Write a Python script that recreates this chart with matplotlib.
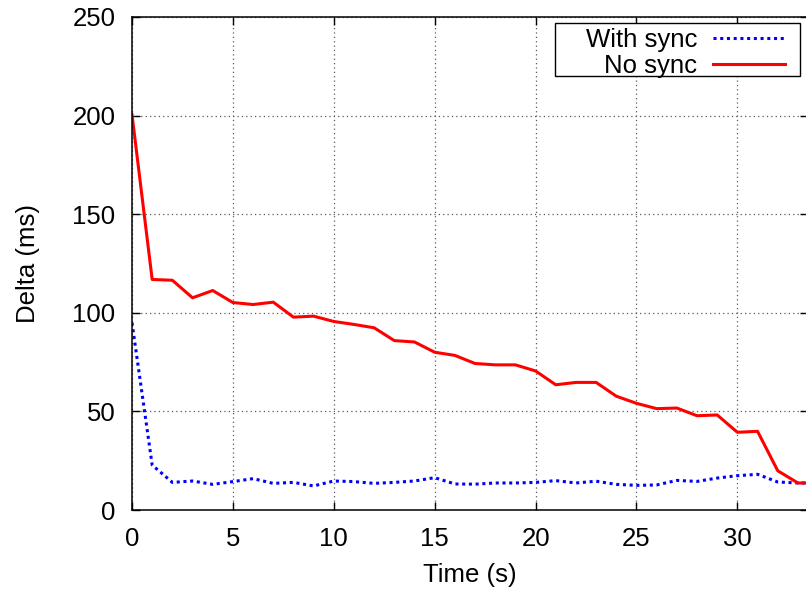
import matplotlib
matplotlib.use('Agg')
import matplotlib.pyplot as plt
from matplotlib.patches import Rectangle

# 時間 (s)
time_s = list(range(0, 35))

# 同期あり
with_sync = [95, 22.8, 14, 14.7, 13, 14.4, 15.9, 13.5, 14, 12.2,
             14.7, 14.4, 13.5, 14, 14.7, 16.4, 13.2, 13.1, 13.7, 13.7,
             14, 14.9, 13.7, 14.6, 13, 12.5, 12.7, 15, 14.5, 16.2,
             17.4, 18.1, 14.2, 13.7, 13.6]

# 同期なし
no_sync = [200.5, 116.9, 116.5, 107.6, 111.3, 105.2, 104.2, 105.4, 97.8, 98.3,
           95.6, 94.1, 92.4, 85.9, 85.2, 80, 78.4, 74.3, 73.6, 73.6,
           70.5, 63.5, 64.7, 64.7, 57.7, 54.1, 51.4, 51.7, 47.8, 48.2,
           39.4, 39.9, 19.9, 13.7, 13.7]

x_ticks = [0, 5, 10, 15, 20, 25, 30]
y_ticks = [0, 50, 100, 150, 200, 250]

plt.rcParams['font.family'] = ['Liberation Sans', 'DejaVu Sans']
plt.rcParams['font.size'] = 18.5

fig = plt.figure(figsize=(8.06, 5.93), dpi=100)
ax = fig.add_axes([132 / 806, 83 / 593, 676 / 806, 493 / 593])

ax.plot(time_s, with_sync, color='#0000ff', linewidth=2.2,
        linestyle=(0, (1, 1.2)), label='With sync')
ax.plot(time_s, no_sync, color='#ff0000', linewidth=2.2, label='No sync')

ax.set_xlim(0, 33.5)
ax.set_ylim(0, 250)
ax.set_xticks(x_ticks)
ax.set_yticks(y_ticks)

ax.grid(True, color='0.35', linestyle=(0, (1, 2.5)), linewidth=0.9)
ax.tick_params(direction='in', length=6, width=1, top=True, right=True, pad=12)
for s in ax.spines.values():
    s.set_linewidth(1.1)

ax.set_xlabel('Time (s)', labelpad=9)
ax.set_ylabel('Delta (ms)', labelpad=23)

# 凡例の枠 (gnuplot風に左側の余白を広めに)
ax.add_patch(Rectangle((0.6257, 0.8803), 0.3625, 0.1075, transform=ax.transAxes,
                       facecolor='white', edgecolor='black', linewidth=1.0,
                       zorder=4))
# 凡例本体: テキスト右寄せ、線サンプルは右側
leg = ax.legend(loc='upper right', bbox_to_anchor=(0.966, 0.978),
                markerfirst=False, frameon=False, handlelength=2.8,
                handletextpad=0.62, labelspacing=0.1, borderpad=0,
                borderaxespad=0)

plt.savefig('out.png', dpi=100)
